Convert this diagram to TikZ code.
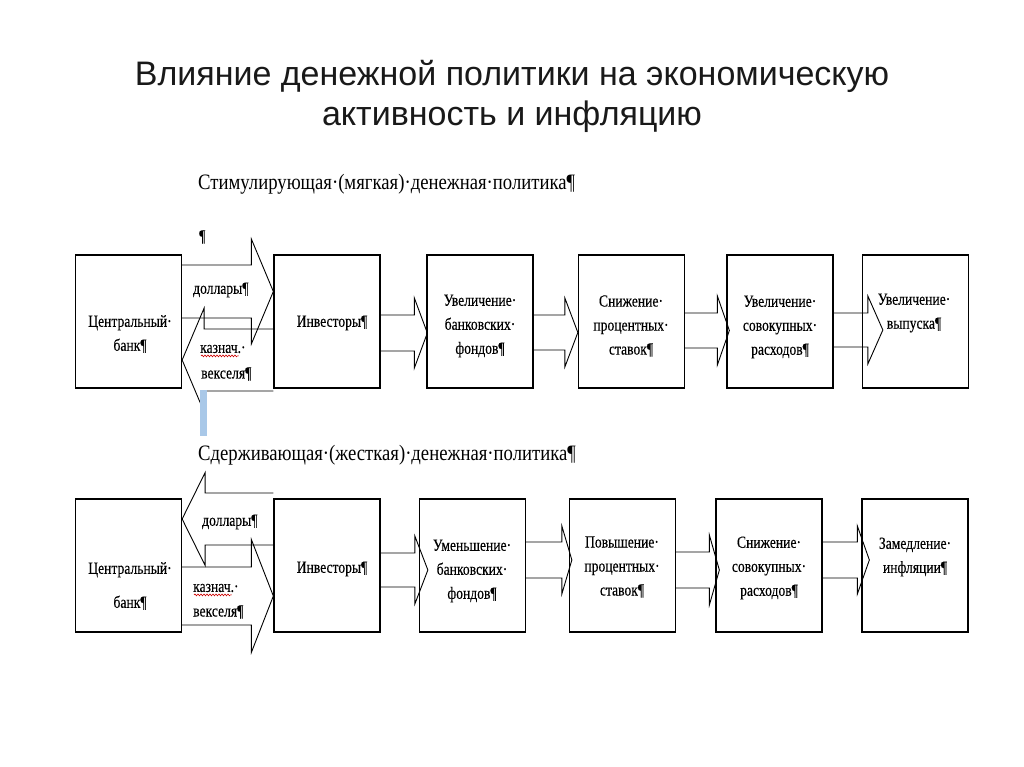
\documentclass[tikz,border=0pt]{standalone}
\usepackage{fontspec}
\setmainfont{Liberation Serif}
\newfontfamily\titlefont{Liberation Sans}
\newfontfamily\boxfont[FakeStretch=0.8, FakeBold=0.3]{Liberation Serif}
\newfontfamily\headfont[FakeStretch=0.85]{Liberation Serif}
\usetikzlibrary{calc,decorations.pathmorphing}

\definecolor{selblue}{HTML}{A9C8E8}

\tikzset{
  box/.style={draw, line width=1.3pt, minimum width=106pt, minimum height=133pt, inner sep=0pt},
  txt/.style={align=center, inner sep=0pt, font=\boxfont\fontsize{17}{24}\selectfont},
  lbl/.style={anchor=west, inner sep=0pt, font=\boxfont\fontsize{17}{24}\selectfont},
  head/.style={anchor=west, inner sep=0pt, font=\headfont\fontsize{22}{24}\selectfont},
  blk/.style={line width=0.9pt, line join=miter},
  spell/.style={red!80!black, line width=0.6pt, decorate,
    decoration={snake, amplitude=0.9pt, segment length=3pt}}
}

\newcommand{\blkarrow}[7]{%
  \draw[blk] let \p1=(#1), \p2=(#2) in
    (\x1,{#3-#4}) -- ({\x2+#7-(#6)},{#3-#4}) -- ({\x2+#7-(#6)},{#3-#5})
    -- ({\x2+#7},#3) -- ({\x2+#7-(#6)},{#3+#5}) -- ({\x2+#7-(#6)},{#3+#4})
    -- (\x1,{#3+#4});}

\begin{document}
\begin{tikzpicture}[x=1pt, y=-1pt]
  \useasboundingbox (0,0) rectangle (1024,767);

  \node[align=center, font=\titlefont\fontsize{34}{40}\selectfont, text=black!90] (title) at (512,96)
    {Влияние денежной политики на экономическую\\активность и инфляцию};

  \node[head] (soft) at (198,184) {Стимулирующая·(мягкая)·денежная·политика¶};
  \node[head] (hard) at (198,455) {Сдерживающая·(жесткая)·денежная·политика¶};

  \node[box] (b1) at (128.5,321.5) {};
  \node[box] (b2) at (327,321.5) {};
  \node[box] (b3) at (480,321.5) {};
  \node[box] (b4) at (631.5,321.5) {};
  \node[box] (b5) at (780,321.5) {};
  \node[box] (b6) at (915.5,321.5) {};

  \node[box] (c1) at (128.5,565.5) {};
  \node[box] (c2) at (327,565.5) {};
  \node[box] (c3) at (472.5,565.5) {};
  \node[box] (c4) at (622.5,565.5) {};
  \node[box] (c5) at (769,565.5) {};
  \node[box] (c6) at (915,565.5) {};

  \node[txt] (b1t) at (130,334) {Центральный·\\банк¶};
  \node[txt] (b2t) at (332,323) {Инвесторы¶};
  \node[txt] (b3t) at (480,326) {Увеличение·\\банковских·\\фондов¶};
  \node[txt] (b4t) at (631,326) {Снижение·\\процентных·\\ставок¶};
  \node[txt] (b5t) at (780,327) {Увеличение·\\совокупных·\\расходов¶};
  \node[txt] (b6t) at (914,313) {Увеличение·\\выпуска¶};

  \node[txt] (c1t) at (130,586) {Центральный·\\[10pt]банк¶};
  \node[txt] (c2t) at (332,569) {Инвесторы¶};
  \node[txt] (c3t) at (472,571) {Уменьшение·\\банковских·\\фондов¶};
  \node[txt] (c4t) at (622,567) {Повышение·\\процентных·\\ставок¶};
  \node[txt] (c5t) at (769,568) {Снижение·\\совокупных·\\расходов¶};
  \node[txt] (c6t) at (915,557) {Замедление·\\инфляции¶};

  \blkarrow{b1.east}{b2.west}{291.5}{26.5}{52.5}{22}{0}
  \blkarrow{b2.west}{b1.east}{360}{31}{52}{-22}{0}
  \blkarrow{b2.east}{b3.west}{333}{18}{35}{13}{1}
  \blkarrow{b3.east}{b4.west}{332.5}{17.5}{34.5}{13}{0}
  \blkarrow{b4.east}{b5.west}{330.5}{17.5}{34.5}{12}{3}
  \blkarrow{b5.east}{b6.west}{330}{17}{34}{15}{21}

  \blkarrow{c2.west}{c1.east}{519}{26}{46.5}{-23}{0}
  \blkarrow{c1.east}{c2.west}{596}{29}{56.5}{22}{0}
  \blkarrow{c2.east}{c3.west}{570}{17}{34}{13}{9}
  \blkarrow{c3.east}{c4.west}{560}{18}{34}{10}{3}
  \blkarrow{c4.east}{c5.west}{570}{18}{35}{10}{4}
  \blkarrow{c5.east}{c6.west}{560}{18}{34}{12}{8}

  \node[lbl] (d1) at (193,290) {доллары¶};
  \node[lbl] (k1) at (200,349) {казнач.·};
  \node[lbl] (v1) at (201,374) {векселя¶};
  \node[lbl] (d2) at (202,522) {доллары¶};
  \node[lbl] (k2) at (193,588) {казнач.·};
  \node[lbl] (v2) at (193,612) {векселя¶};

  \draw[spell] ($(k1.base west)+(1,3)$) -- ($(k1.base east)+(-7,3)$);
  \draw[spell] ($(k2.base west)+(1,3)$) -- ($(k2.base east)+(-7,3)$);

  \node[lbl] (pil) at (199,237) {¶};
  \fill[selblue] (200,390) rectangle (207,436);
\end{tikzpicture}
\end{document}
